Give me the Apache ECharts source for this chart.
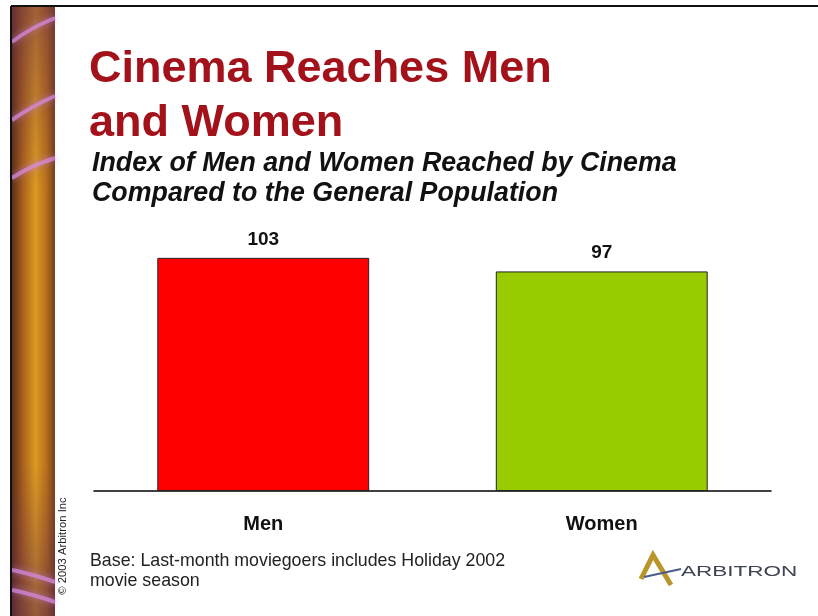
<!DOCTYPE html>
<html>
<head>
<meta charset="utf-8">
<script src="https://cdn.jsdelivr.net/npm/echarts@6/dist/echarts.min.js"></script>
<style>
  html, body { margin: 0; padding: 0; background: #ffffff; }
  #chart { width: 818px; height: 616px; }
</style>
</head>
<body>
<div id="chart"></div>
<script>
// Audience index by gender (general population = 100)
const categories = ['Men', 'Women'];
const indexValues = [103, 97];
const barColors = ['#ff0000', '#99cc00'];

const titleLines = ['Cinema Reaches Men', 'and Women'];
const subtitleLines = ['Index of Men and Women Reached by Cinema', 'Compared to the General Population'];
const footnoteText = 'Base: Last-month moviegoers includes Holiday 2002\nmovie season';
const copyrightText = '\u00a9 2003 Arbitron Inc';
const logoText = 'ARBITRON';

const FONT = '"Liberation Sans", Arial, sans-serif';

const chart = echarts.init(document.getElementById('chart'), null, { renderer: 'canvas' });

// Decorative film-strip band on the left edge
const stripGraphics = [
  {
    type: 'rect', silent: true, z: 1,
    shape: { x: 12, y: 6, width: 43, height: 610 },
    style: {
      fill: new echarts.graphic.LinearGradient(0, 0, 1, 0, [
        { offset: 0, color: '#5a2e18' },
        { offset: 0.25, color: '#a8601c' },
        { offset: 0.55, color: '#dc9a22' },
        { offset: 0.8, color: '#b86f1c' },
        { offset: 1, color: '#74401a' }
      ])
    }
  },
  {
    type: 'rect', silent: true, z: 2,
    shape: { x: 12, y: 6, width: 43, height: 610 },
    style: {
      fill: new echarts.graphic.LinearGradient(0, 0, 0, 1, [
        { offset: 0, color: 'rgba(110,50,70,0.55)' },
        { offset: 0.3, color: 'rgba(110,50,70,0.0)' },
        { offset: 0.75, color: 'rgba(110,50,70,0.0)' },
        { offset: 1, color: 'rgba(90,40,80,0.55)' }
      ])
    }
  }
];
const streaks = [
  [[12, 42], [30, 28], [55, 18]],
  [[12, 120], [32, 106], [55, 96]],
  [[12, 178], [30, 166], [55, 158]],
  [[12, 570], [32, 574], [55, 582]],
  [[12, 590], [32, 594], [55, 602]]
];
streaks.forEach(function (p) {
  stripGraphics.push({
    type: 'bezierCurve', silent: true, z: 3,
    shape: { x1: p[0][0], y1: p[0][1], cpx1: p[1][0], cpy1: p[1][1], x2: p[2][0], y2: p[2][1] },
    style: { stroke: 'rgba(215,140,230,0.7)', lineWidth: 4, shadowBlur: 7, shadowColor: 'rgba(200,120,230,0.9)' }
  });
});

const frameGraphics = [
  { type: 'line', silent: true, z: 5, shape: { x1: 11, y1: 6, x2: 818, y2: 6 }, style: { stroke: '#111', lineWidth: 2 } },
  { type: 'line', silent: true, z: 5, shape: { x1: 11, y1: 6, x2: 11, y2: 616 }, style: { stroke: '#111', lineWidth: 2 } }
];

const textGraphics = [
  { type: 'text', silent: true, left: 89, top: 47,
    style: { text: titleLines[0], font: 'bold 45px ' + FONT, fill: '#a3121a' } },
  { type: 'text', silent: true, left: 89, top: 101,
    style: { text: titleLines[1], font: 'bold 45px ' + FONT, fill: '#a3121a' } },
  { type: 'text', silent: true, left: 92, top: 150,
    style: { text: subtitleLines[0], font: 'italic bold 26.8px ' + FONT, fill: '#111' } },
  { type: 'text', silent: true, left: 92, top: 180,
    style: { text: subtitleLines[1], font: 'italic bold 26.8px ' + FONT, fill: '#111' } },
  { type: 'text', silent: true, left: 90, top: 551,
    style: { text: footnoteText, font: '17.8px ' + FONT, fill: '#222', lineHeight: 20 } },
  { type: 'text', silent: true, x: 63, y: 546, rotation: Math.PI / 2,
    style: { text: copyrightText, font: '11.3px ' + FONT, fill: '#222', align: 'center', verticalAlign: 'middle' } },
  // logo mark
  { type: 'polyline', silent: true,
    shape: { points: [[641, 579], [653, 555], [671, 585]] },
    style: { stroke: '#b8962a', lineWidth: 5, lineJoin: 'miter', fill: null } },
  { type: 'line', silent: true,
    shape: { x1: 644, y1: 577, x2: 681, y2: 569 },
    style: { stroke: '#4a5a8a', lineWidth: 2 } },
  { type: 'text', silent: true, x: 681, y: 572, scaleX: 1.5,
    style: { text: logoText, font: '15px ' + FONT, fill: '#3e4452', verticalAlign: 'middle' } }
];

chart.setOption({
  backgroundColor: '#ffffff',
  animation: false,
  grid: { left: 94, right: 47, top: 242, bottom: 125, containLabel: false },
  xAxis: {
    type: 'category',
    data: categories,
    axisLine: { show: true, lineStyle: { color: '#000', width: 1.5 } },
    axisTick: { show: false },
    axisLabel: { color: '#111', fontFamily: FONT, fontSize: 20, fontWeight: 'bold', margin: 23 }
  },
  yAxis: {
    type: 'value', min: 0, max: 110, show: false,
    splitLine: { show: false }
  },
  series: [{
    type: 'bar',
    barWidth: '62.6%',
    data: indexValues.map(function (v, i) {
      return { value: v, itemStyle: { color: barColors[i] } };
    }),
    itemStyle: { borderColor: '#222', borderWidth: 1 },
    label: {
      show: true, position: 'top', distance: 9,
      color: '#111', fontFamily: FONT, fontSize: 19, fontWeight: 'bold'
    }
  }],
  graphic: stripGraphics.concat(frameGraphics, textGraphics)
});
</script>
</body>
</html>
